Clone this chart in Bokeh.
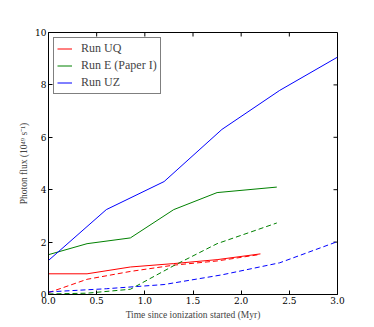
from bokeh.plotting import figure
from bokeh.models import Range1d, FixedTicker, Legend, LegendItem, NumeralTickFormatter
from bokeh.embed import file_html
from bokeh.resources import INLINE
import math

# Data (time in Myr, photon flux in 1e49 s^-1)
x_uq = [0.0, 0.4, 0.85, 1.3, 1.75, 2.2]
uq_solid = [0.79, 0.79, 1.05, 1.18, 1.33, 1.55]
uq_dashed = [0.07, 0.58, 0.88, 1.12, 1.28, 1.53]

x_e = [0.0, 0.4, 0.85, 1.3, 1.75, 2.37]
e_solid = [1.52, 1.94, 2.16, 3.24, 3.89, 4.10]
e_dashed = [0.02, 0.05, 0.2, 1.1, 1.94, 2.73]

x_uz = [0.0, 0.6, 1.2, 1.8, 2.4, 3.0]
uz_solid = [1.3, 3.24, 4.31, 6.3, 7.79, 9.06]
uz_dashed = [0.1, 0.22, 0.38, 0.75, 1.21, 2.02]

x_ticks = [0.0, 0.5, 1.0, 1.5, 2.0, 2.5, 3.0]
y_ticks = [0, 2, 4, 6, 8, 10]
labels = ["Run UQ", "Run E (Paper I)", "Run UZ"]

RED, GREEN, BLUE = "#ff0000", "#008000", "#0000ff"
SERIF = "Liberation Serif"
TICKF = "DejaVu Serif"

p = figure(frame_width=289, frame_height=262, output_backend="svg", toolbar_location=None,
           x_range=Range1d(0, 3), y_range=Range1d(0, 10),
           min_border_left=48, min_border_top=32, min_border_right=20, min_border_bottom=25)
p.outline_line_color = "black"
p.outline_line_width = 1
p.grid.visible = False
p.background_fill_color = "white"
p.border_fill_color = "white"

for ax, ticks in ((p.xaxis[0], x_ticks), (p.yaxis[0], y_ticks)):
    ax.ticker = FixedTicker(ticks=ticks)
    ax.major_tick_in = 4
    ax.major_tick_out = 0
    ax.minor_tick_in = 0
    ax.minor_tick_out = 0
    ax.major_label_standoff = 2
    ax.major_label_text_font = TICKF
    ax.major_label_text_font_size = "9px"
    ax.major_label_text_color = "black"
    ax.axis_label_text_font = SERIF
    ax.axis_label_text_font_size = "9.5px"
    ax.axis_label_text_font_style = "normal"
    ax.axis_label_standoff = 3
    ax.axis_line_color = "black"

p.xaxis[0].formatter = NumeralTickFormatter(format="0.0")
p.xaxis[0].axis_label = "Time since ionization started (Myr)"
p.yaxis[0].axis_label = "Photon flux (10\u2074\u2079 s\u207b\u00b9)"

# mirrored inward ticks on top and right edges
p.ray(x=x_ticks, y=[y_ticks[-1]] * len(x_ticks), length=4, length_units="screen",
      angle=-math.pi / 2, line_color="black", line_width=1)
p.ray(x=[x_ticks[-1]] * len(y_ticks), y=y_ticks, length=4, length_units="screen",
      angle=math.pi, line_color="black", line_width=1)

r1 = p.line(x_uq, uq_solid, line_color=RED, line_width=1)
p.line(x_uq, uq_dashed, line_color=RED, line_width=1, line_dash="5 3")
r2 = p.line(x_e, e_solid, line_color=GREEN, line_width=1)
p.line(x_e, e_dashed, line_color=GREEN, line_width=1, line_dash="5 3")
r3 = p.line(x_uz, uz_solid, line_color=BLUE, line_width=1)
p.line(x_uz, uz_dashed, line_color=BLUE, line_width=1, line_dash="5 3")

legend = Legend(items=[LegendItem(label=labels[0], renderers=[r1]),
                       LegendItem(label=labels[1], renderers=[r2]),
                       LegendItem(label=labels[2], renderers=[r3])],
                location="top_left")
legend.margin = 5
legend.padding = 3
legend.spacing = 2
legend.glyph_width = 15
legend.glyph_height = 11
legend.label_height = 11
legend.label_standoff = 9
legend.label_text_font = SERIF
legend.label_text_font_size = "12px"
legend.border_line_color = "black"
legend.border_line_width = 1
legend.background_fill_alpha = 1
p.add_layout(legend)

open("out.html", "w").write(file_html(p, INLINE))
